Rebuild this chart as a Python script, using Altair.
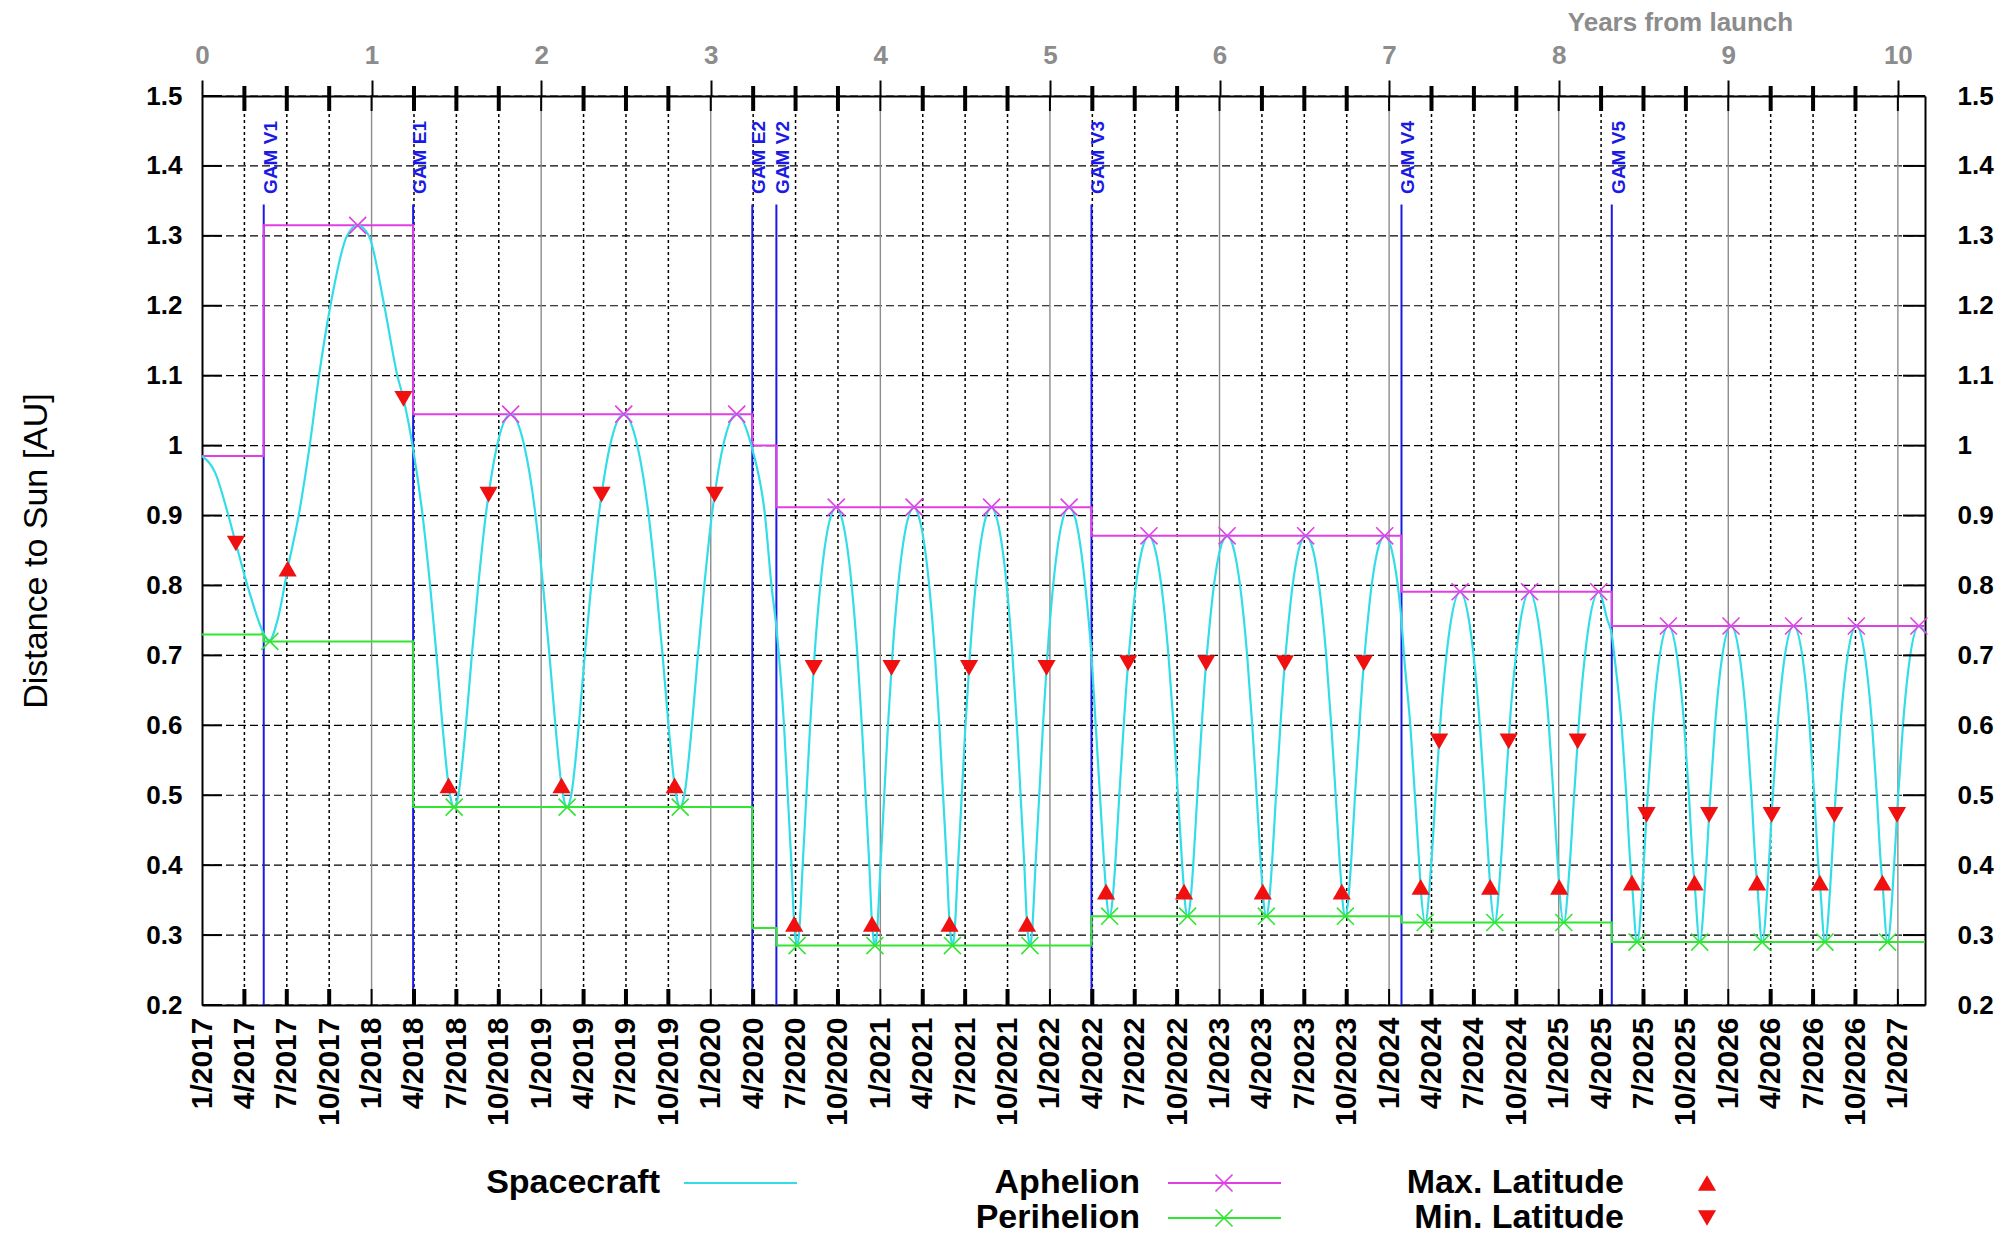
import json

import altair as alt
import pandas as pd

# ---------------------------------------------------------------------------
# Spacecraft distance to the Sun [AU] against years from launch, one list of
# (t, r) samples per orbital phase between gravity assists.
# ---------------------------------------------------------------------------
orbit_cruise = [
    (0.000, 0.985), (0.080, 0.960), (0.150, 0.905), (0.200, 0.860), (0.280, 0.790),
    (0.340, 0.745), (0.370, 0.728), (0.395, 0.721), (0.450, 0.755), (0.505, 0.824),
    (0.570, 0.900), (0.635, 1.000), (0.690, 1.100), (0.757, 1.200), (0.855, 1.300),
    (0.918, 1.315), (0.984, 1.300), (1.075, 1.200), (1.152, 1.100), (1.188, 1.067),
    (1.245, 0.995),
]
orbit_e1_e2 = [
    (1.301, 0.90), (1.345, 0.80), (1.383, 0.70), (1.418, 0.60), (1.454, 0.514),
    (1.463, 0.50), (1.487, 0.483), (1.511, 0.50), (1.556, 0.60), (1.591, 0.70),
    (1.629, 0.80), (1.673, 0.90), (1.690, 0.93), (1.740, 1.00), (1.820, 1.045),
    (1.900, 1.00), (1.967, 0.90), (2.011, 0.80), (2.049, 0.70), (2.084, 0.60),
    (2.120, 0.514), (2.129, 0.50), (2.153, 0.483), (2.177, 0.50), (2.222, 0.60),
    (2.257, 0.70), (2.295, 0.80), (2.339, 0.90), (2.356, 0.93), (2.406, 1.00),
    (2.487, 1.045),
    (2.567, 1.00), (2.634, 0.90), (2.678, 0.80), (2.716, 0.70), (2.751, 0.60),
    (2.787, 0.514), (2.796, 0.50), (2.820, 0.483), (2.844, 0.50), (2.889, 0.60),
    (2.924, 0.70), (2.962, 0.80), (3.006, 0.90), (3.023, 0.93), (3.073, 1.00),
    (3.153, 1.045),
]
orbit_e2_v2 = [
    (3.245, 0.995), (3.320, 0.90), (3.358, 0.80), (3.387, 0.74), (3.432, 0.60),
    (3.454, 0.50), (3.476, 0.40), (3.492, 0.316), (3.498, 0.30), (3.509, 0.285),
]
orbit_v2_v3 = [
    (3.520, 0.30), (3.542, 0.40), (3.564, 0.50), (3.586, 0.60), (3.607, 0.682),
    (3.612, 0.70), (3.646, 0.80), (3.709, 0.90), (3.740, 0.912),
    (3.768, 0.90), (3.831, 0.80), (3.865, 0.70), (3.891, 0.60), (3.913, 0.50),
    (3.935, 0.40), (3.951, 0.316), (3.957, 0.30), (3.968, 0.285),
    (3.979, 0.30), (4.001, 0.40), (4.023, 0.50), (4.045, 0.60), (4.066, 0.682),
    (4.071, 0.70), (4.105, 0.80), (4.168, 0.90), (4.199, 0.912),
    (4.225, 0.90), (4.288, 0.80), (4.322, 0.70), (4.348, 0.60), (4.370, 0.50),
    (4.392, 0.40), (4.408, 0.316), (4.414, 0.30), (4.425, 0.285),
    (4.436, 0.30), (4.458, 0.40), (4.480, 0.50), (4.502, 0.60), (4.523, 0.682),
    (4.528, 0.70), (4.562, 0.80), (4.625, 0.90), (4.656, 0.912),
    (4.682, 0.90), (4.745, 0.80), (4.779, 0.70), (4.805, 0.60), (4.827, 0.50),
    (4.849, 0.40), (4.865, 0.316), (4.871, 0.30), (4.882, 0.285),
    (4.893, 0.30), (4.915, 0.40), (4.937, 0.50), (4.959, 0.60), (4.980, 0.682),
    (4.985, 0.70), (5.019, 0.80), (5.082, 0.90), (5.113, 0.912),
    (5.145, 0.90), (5.208, 0.80), (5.245, 0.70),
]
orbit_v3_v4 = [
    (5.270, 0.60), (5.295, 0.50), (5.320, 0.40), (5.331, 0.362), (5.335, 0.35),
    (5.352, 0.327),
    (5.369, 0.35), (5.385, 0.40), (5.409, 0.50), (5.435, 0.60), (5.461, 0.689),
    (5.465, 0.70), (5.507, 0.80), (5.542, 0.85), (5.584, 0.871),
    (5.622, 0.85), (5.657, 0.80), (5.699, 0.70), (5.729, 0.60), (5.755, 0.50),
    (5.780, 0.40), (5.791, 0.362), (5.795, 0.35), (5.812, 0.327),
    (5.829, 0.35), (5.845, 0.40), (5.869, 0.50), (5.895, 0.60), (5.921, 0.689),
    (5.925, 0.70), (5.967, 0.80), (6.002, 0.85), (6.045, 0.871),
    (6.086, 0.85), (6.121, 0.80), (6.163, 0.70), (6.193, 0.60), (6.219, 0.50),
    (6.244, 0.40), (6.255, 0.362), (6.259, 0.35), (6.276, 0.327),
    (6.293, 0.35), (6.309, 0.40), (6.333, 0.50), (6.359, 0.60), (6.385, 0.689),
    (6.389, 0.70), (6.431, 0.80), (6.466, 0.85), (6.508, 0.871),
    (6.552, 0.85), (6.587, 0.80), (6.629, 0.70), (6.659, 0.60), (6.685, 0.50),
    (6.710, 0.40), (6.721, 0.362), (6.725, 0.35), (6.742, 0.327),
    (6.759, 0.35), (6.775, 0.40), (6.799, 0.50), (6.825, 0.60), (6.851, 0.689),
    (6.855, 0.70), (6.897, 0.80), (6.932, 0.85), (6.974, 0.871),
    (7.016, 0.85), (7.051, 0.80), (7.073, 0.75),
]
orbit_v4_v5 = [
    (7.088, 0.70), (7.125, 0.60), (7.152, 0.50), (7.178, 0.40), (7.186, 0.369),
    (7.213, 0.318),
    (7.248, 0.40), (7.274, 0.50), (7.295, 0.577), (7.301, 0.60), (7.338, 0.70),
    (7.365, 0.75), (7.419, 0.791),
    (7.471, 0.75), (7.498, 0.70), (7.535, 0.60), (7.562, 0.50), (7.588, 0.40),
    (7.596, 0.369), (7.623, 0.318),
    (7.658, 0.40), (7.684, 0.50), (7.705, 0.577), (7.711, 0.60), (7.748, 0.70),
    (7.775, 0.75), (7.828, 0.791),
    (7.878, 0.75), (7.905, 0.70), (7.942, 0.60), (7.969, 0.50), (7.995, 0.40),
    (8.003, 0.369), (8.030, 0.318),
    (8.065, 0.40), (8.091, 0.50), (8.112, 0.577), (8.118, 0.60), (8.155, 0.70),
    (8.182, 0.75), (8.236, 0.791),
    (8.288, 0.75), (8.313, 0.73),
]
orbit_v5_end = [
    (8.328, 0.70), (8.371, 0.60), (8.399, 0.50), (8.423, 0.40), (8.432, 0.375),
    (8.462, 0.29),
    (8.501, 0.40), (8.518, 0.472), (8.525, 0.50), (8.553, 0.60), (8.596, 0.70),
    (8.647, 0.742),
    (8.697, 0.70), (8.740, 0.60), (8.768, 0.50), (8.792, 0.40), (8.801, 0.375),
    (8.831, 0.29),
    (8.870, 0.40), (8.887, 0.472), (8.894, 0.50), (8.922, 0.60), (8.965, 0.70),
    (9.016, 0.742),
    (9.066, 0.70), (9.109, 0.60), (9.137, 0.50), (9.161, 0.40), (9.170, 0.375),
    (9.200, 0.29),
    (9.239, 0.40), (9.256, 0.472), (9.263, 0.50), (9.291, 0.60), (9.334, 0.70),
    (9.385, 0.742),
    (9.436, 0.70), (9.479, 0.60), (9.507, 0.50), (9.531, 0.40), (9.540, 0.375),
    (9.570, 0.29),
    (9.609, 0.40), (9.626, 0.472), (9.633, 0.50), (9.661, 0.60), (9.704, 0.70),
    (9.755, 0.742),
    (9.805, 0.70), (9.848, 0.60), (9.876, 0.50), (9.900, 0.40), (9.909, 0.375),
    (9.939, 0.29),
    (9.978, 0.40), (9.995, 0.472), (10.002, 0.50), (10.030, 0.60), (10.073, 0.70),
    (10.124, 0.742), (10.160, 0.733),
]

# Aphelion / perihelion passages and latitude extrema
aphelion_marks = [
    (0.918, 1.315), (1.820, 1.045), (2.487, 1.045), (3.153, 1.045),
    (3.740, 0.912), (4.199, 0.912), (4.656, 0.912), (5.113, 0.912),
    (5.584, 0.871), (6.045, 0.871), (6.508, 0.871), (6.974, 0.871),
    (7.419, 0.791), (7.828, 0.791), (8.236, 0.791),
    (8.647, 0.742), (9.016, 0.742), (9.385, 0.742), (9.755, 0.742), (10.124, 0.742),
]
perihelion_marks = [
    (0.400, 0.720), (1.487, 0.483), (2.153, 0.483), (2.820, 0.483),
    (3.509, 0.285), (3.968, 0.285), (4.425, 0.285), (4.882, 0.285),
    (5.352, 0.327), (5.812, 0.327), (6.276, 0.327), (6.742, 0.327),
    (7.213, 0.318), (7.623, 0.318), (8.030, 0.318),
    (8.462, 0.290), (8.831, 0.290), (9.200, 0.290), (9.570, 0.290), (9.939, 0.290),
]
max_lat_marks = [
    (0.505, 0.824), (1.454, 0.514), (2.120, 0.514), (2.787, 0.514),
    (3.492, 0.316), (3.951, 0.316), (4.408, 0.316), (4.865, 0.316),
    (5.331, 0.362), (5.791, 0.362), (6.255, 0.362), (6.721, 0.362),
    (7.186, 0.369), (7.596, 0.369), (8.003, 0.369),
    (8.432, 0.375), (8.801, 0.375), (9.170, 0.375), (9.540, 0.375), (9.909, 0.375),
]
min_lat_marks = [
    (0.200, 0.860), (1.188, 1.067), (1.690, 0.930), (2.356, 0.930), (3.023, 0.930),
    (3.607, 0.682), (4.066, 0.682), (4.523, 0.682), (4.980, 0.682),
    (5.461, 0.689), (5.921, 0.689), (6.385, 0.689), (6.851, 0.689),
    (7.295, 0.577), (7.705, 0.577), (8.112, 0.577),
    (8.518, 0.472), (8.887, 0.472), (9.256, 0.472), (9.626, 0.472), (9.995, 0.472),
]

# Orbit aphelion / perihelion levels, changing at each gravity assist
step_t = [0.000, 0.364, 1.245, 3.245, 3.387, 5.245, 7.073, 8.313, 10.160]
step_aphelion = [0.985, 1.315, 1.045, 1.000, 0.912, 0.871, 0.791, 0.742, 0.742]
step_perihelion = [0.730, 0.720, 0.483, 0.310, 0.285, 0.327, 0.318, 0.290, 0.290]

# Gravity assist manoeuvres
gam_t = [0.364, 1.245, 3.245, 3.387, 5.245, 7.073, 8.313]
gam_labels = ["GAM V1", "GAM E1", "GAM E2", "GAM V2", "GAM V3", "GAM V4", "GAM V5"]

# Axis ticks
years = [0, 1, 2, 3, 4, 5, 6, 7, 8, 9, 10]
y_ticks = [0.2, 0.3, 0.4, 0.5, 0.6, 0.7, 0.8, 0.9, 1.0, 1.1, 1.2, 1.3, 1.4, 1.5]
quarter_labels = [
    "1/2017", "4/2017", "7/2017", "10/2017",
    "1/2018", "4/2018", "7/2018", "10/2018",
    "1/2019", "4/2019", "7/2019", "10/2019",
    "1/2020", "4/2020", "7/2020", "10/2020",
    "1/2021", "4/2021", "7/2021", "10/2021",
    "1/2022", "4/2022", "7/2022", "10/2022",
    "1/2023", "4/2023", "7/2023", "10/2023",
    "1/2024", "4/2024", "7/2024", "10/2024",
    "1/2025", "4/2025", "7/2025", "10/2025",
    "1/2026", "4/2026", "7/2026", "10/2026",
    "1/2027",
]
legend_labels = ["Spacecraft", "Aphelion", "Perihelion", "Max. Latitude", "Min. Latitude"]

# ---------------------------------------------------------------------------
# Layout and styling
# ---------------------------------------------------------------------------
W, H = 1723, 909
X_MAX = 10.16
FONT = "Liberation Sans"
CYAN = "#33dde8"
MAGENTA = "#e23ee6"
GREEN = "#33e533"
RED = "#f01010"
BLUE = "#1a1ae6"
GREY = "#8c8c8c"

x_scale = alt.Scale(domain=[0, X_MAX], nice=False, zero=False)
y_scale = alt.Scale(domain=[0.2, 1.5], nice=False, zero=False)

quarter_pos = [i * 0.25 for i in range(len(quarter_labels))]
minor_quarters = [q for q in quarter_pos if abs(q - round(q)) > 1e-9]
label_expr = json.dumps(quarter_labels) + "[round(datum.value * 4)]"


def pairs_df(pairs):
    return pd.DataFrame(pairs, columns=["t", "r"])


def xq(field="t", axis=None):
    return alt.X(f"{field}:Q", scale=x_scale, axis=axis)


def yq(field="r", axis=None):
    return alt.Y(f"{field}:Q", scale=y_scale, axis=axis)


one_row = pd.DataFrame({"k": [0]})
sc_df = pairs_df(orbit_cruise + orbit_e1_e2 + orbit_e2_v2 + orbit_v2_v3
                 + orbit_v3_v4 + orbit_v4_v5 + orbit_v5_end)
step_df = pd.DataFrame({"t": step_t, "aph": step_aphelion, "peri": step_perihelion})
gam_df = pd.DataFrame({"t": gam_t, "label": gam_labels})
ytick_df = pd.DataFrame({"y": y_ticks})
minor_df = pd.DataFrame({"q": minor_quarters})
year_df = pd.DataFrame({"q": years[1:]})

X_SHAPE = "M-1,-1L1,1M-1,1L1,-1"
X_SIZE = 290
TRI_SIZE = 330

bottom_axis = alt.Axis(
    orient="bottom", values=quarter_pos, labelExpr=label_expr, labelAngle=270,
    labelAlign="right", labelBaseline="middle", labelFontSize=30,
    labelFontWeight="bold", labelColor="black", labelPadding=12, tickSize=0,
    domainColor="black", domainWidth=2, grid=False, title=None,
    labelOverlap=False, labelFlush=False,
)
top_axis = alt.Axis(
    orient="top", values=years, format="d", labelColor=GREY, labelFontSize=26,
    labelFontWeight="bold", labelPadding=12, tickSize=16, tickWidth=2,
    tickColor="black", domainColor="black", domainWidth=2, grid=False,
    labelOverlap=False, labelFlush=False,
    title="Years from launch", titleColor=GREY, titleFontSize=26,
    titleFontWeight="bold", titleX=1478, titleY=-74, titleAlign="center",
    titleBaseline="middle", titleAngle=0,
)
left_axis = alt.Axis(
    orient="left", values=y_ticks, format="~g", labelFontSize=26,
    labelFontWeight="bold", labelColor="black", labelPadding=20, tickSize=0,
    domainColor="black", domainWidth=2, grid=False, labelFlush=False,
    labelOverlap=False,
    title="Distance to Sun [AU]", titleFontSize=34, titleFontWeight="normal",
    titleColor="black", titleX=-166, titleY=H / 2, titleAngle=270,
    titleAlign="center", titleBaseline="middle",
)
right_axis = alt.Axis(
    orient="right", values=y_ticks, format="~g", labelFontSize=26,
    labelFontWeight="bold", labelColor="black", labelPadding=32, tickSize=0,
    domainColor="black", domainWidth=2, grid=False, labelFlush=False,
    labelOverlap=False, title=None,
)

# ---------------------------------------------------------------------------
# Grid
# ---------------------------------------------------------------------------
h_grid = alt.Chart(ytick_df).mark_rule(
    color="black", strokeDash=[8, 4], strokeWidth=1.2
).encode(
    y=yq("y"), x=alt.X(datum=0, scale=x_scale, axis=None), x2=alt.X2(datum=X_MAX)
)
q_grid = alt.Chart(minor_df).mark_rule(
    color="black", strokeDash=[3, 3], strokeWidth=1.5
).encode(
    x=xq("q"), y=alt.Y(datum=0.2, scale=y_scale, axis=None), y2=alt.Y2(datum=1.5)
)
year_grid = alt.Chart(year_df).mark_rule(color=GREY, strokeWidth=1.4).encode(
    x=xq("q"), y=alt.Y(datum=0.2, scale=y_scale, axis=None), y2=alt.Y2(datum=1.5)
)

# Inward tick marks on all four sides
left_ticks = alt.Chart(ytick_df).mark_rule(color="black", strokeWidth=2).encode(
    y=yq("y"), x=alt.value(0), x2=alt.value(20)
)
right_ticks = alt.Chart(ytick_df).mark_rule(color="black", strokeWidth=2).encode(
    y=yq("y"), x=alt.value(W - 22), x2=alt.value(W)
)
bottom_minor = alt.Chart(minor_df).mark_rule(color="black", strokeWidth=4).encode(
    x=xq("q"), y=alt.value(H - 16), y2=alt.value(H)
)
bottom_major = alt.Chart(year_df).mark_rule(color="black", strokeWidth=2).encode(
    x=xq("q"), y=alt.value(H - 16), y2=alt.value(H)
)
top_minor = alt.Chart(minor_df).mark_rule(color="black", strokeWidth=4).encode(
    x=xq("q"), y=alt.value(-10), y2=alt.value(15)
)
top_major = alt.Chart(year_df).mark_rule(color="black", strokeWidth=2).encode(
    x=xq("q"), y=alt.value(0), y2=alt.value(15)
)

# ---------------------------------------------------------------------------
# Gravity assists
# ---------------------------------------------------------------------------
gam_lines = alt.Chart(gam_df).mark_rule(color=BLUE, strokeWidth=2).encode(
    x=xq(), y=alt.Y(datum=0.2, scale=y_scale, axis=None), y2=alt.Y2(datum=1.345)
)
gam_text = alt.Chart(gam_df).mark_text(
    angle=270, align="left", baseline="middle", dy=7, fontSize=19,
    fontWeight="bold", color=BLUE,
).encode(x=xq(), y=alt.Y(datum=1.36, scale=y_scale, axis=None), text="label:N")

# ---------------------------------------------------------------------------
# Orbit levels, trajectory and events
# ---------------------------------------------------------------------------
aph_step = alt.Chart(step_df).mark_line(
    interpolate="step-after", color=MAGENTA, strokeWidth=2
).encode(x=xq("t", top_axis), y=yq("aph", right_axis))
peri_step = alt.Chart(step_df).mark_line(
    interpolate="step-after", color=GREEN, strokeWidth=2
).encode(x=xq(), y=yq("peri"))

spacecraft = alt.Chart(sc_df).mark_line(
    interpolate="monotone", color=CYAN, strokeWidth=2.2
).encode(x=xq("t", bottom_axis), y=yq("r", left_axis))

aph_pts = alt.Chart(pairs_df(aphelion_marks)).mark_point(
    shape=X_SHAPE, filled=False, color=MAGENTA, size=X_SIZE, strokeWidth=1.6, opacity=1
).encode(x=xq(), y=yq())
peri_pts = alt.Chart(pairs_df(perihelion_marks)).mark_point(
    shape=X_SHAPE, filled=False, color=GREEN, size=X_SIZE, strokeWidth=1.6, opacity=1
).encode(x=xq(), y=yq())
max_pts = alt.Chart(pairs_df(max_lat_marks)).mark_point(
    shape="triangle-up", filled=True, color=RED, size=TRI_SIZE, opacity=1
).encode(x=xq(), y=yq())
min_pts = alt.Chart(pairs_df(min_lat_marks)).mark_point(
    shape="triangle-down", filled=True, color=RED, size=TRI_SIZE, opacity=1
).encode(x=xq(), y=yq())

# ---------------------------------------------------------------------------
# Legend below the plot
# ---------------------------------------------------------------------------
ROW1, ROW2 = 1087, 1122
LEGEND_FONT = 34


def legend_text(label, x, y):
    return alt.Chart(one_row).mark_text(
        align="right", baseline="middle", fontSize=LEGEND_FONT, fontWeight="bold",
        color="black", text=label,
    ).encode(x=alt.value(x), y=alt.value(y))


def legend_line(color, x0, x1, y):
    return alt.Chart(one_row).mark_rule(color=color, strokeWidth=2).encode(
        x=alt.value(x0), x2=alt.value(x1), y=alt.value(y)
    )


def legend_symbol(shape, color, x, y, filled, size):
    return alt.Chart(one_row).mark_point(
        shape=shape, color=color, filled=filled, size=size, strokeWidth=1.6,
        opacity=1,
    ).encode(x=alt.value(x), y=alt.value(y))


legend = [
    legend_text(legend_labels[0], 458, ROW1),
    legend_line(CYAN, 482, 595, ROW1),
    legend_text(legend_labels[1], 938, ROW1),
    legend_line(MAGENTA, 966, 1079, ROW1),
    legend_symbol(X_SHAPE, MAGENTA, 1022, ROW1, False, X_SIZE),
    legend_text(legend_labels[2], 938, ROW2),
    legend_line(GREEN, 966, 1079, ROW2),
    legend_symbol(X_SHAPE, GREEN, 1022, ROW2, False, X_SIZE),
    legend_text(legend_labels[3], 1422, ROW1),
    legend_symbol("triangle-up", RED, 1505, ROW1, True, TRI_SIZE),
    legend_text(legend_labels[4], 1422, ROW2),
    legend_symbol("triangle-down", RED, 1505, ROW2, True, TRI_SIZE),
]

chart = alt.layer(
    h_grid, q_grid, year_grid,
    gam_lines, gam_text,
    aph_step, peri_step, spacecraft,
    aph_pts, peri_pts, max_pts, min_pts,
    left_ticks, right_ticks, bottom_minor, bottom_major, top_minor, top_major,
    *legend,
).resolve_axis(
    x="independent", y="independent"
).properties(
    width=W,
    height=H,
    autosize=alt.AutoSizeParams(type="none"),
    padding={"left": 202, "top": 96, "right": 2008 - 202 - W, "bottom": 1237 - 96 - H},
).configure(
    font=FONT, background="white"
).configure_view(
    stroke=None
)

chart.save("out.html", embed_options={"renderer": "svg", "actions": False})
